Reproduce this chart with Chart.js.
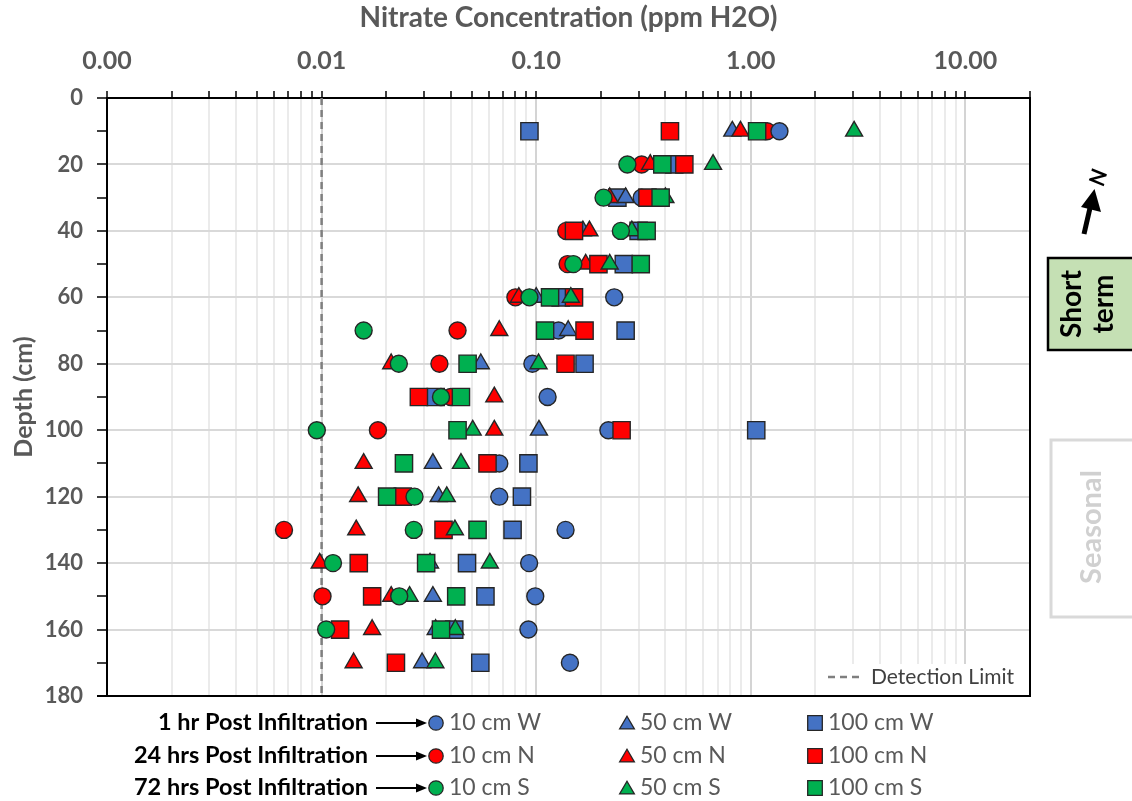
<!DOCTYPE html>
<html><head><meta charset="utf-8">
<script src="https://cdn.jsdelivr.net/npm/chart.js@4.4.0/dist/chart.umd.min.js"></script>
<style>html,body{margin:0;padding:0;background:#fff}canvas{display:block}</style>
</head><body>
<canvas id="c" width="1132" height="801"></canvas>
<script>
// ---------- DATA ----------
const depths = [10,20,30,40,50,60,70,80,90,100,110,120,130,140,150,160,170];
// 1 hr post infiltration (W)
const w10  = [1.36, null, 0.31, null, null, 0.231, 0.127, 0.096, 0.113, 0.217, 0.0673, 0.0673, 0.137, 0.0927, 0.099, 0.092, 0.1436];
const w50  = [0.82, null, 0.261, 0.165, null, 0.10, 0.141, 0.0552, null, 0.103, 0.033, 0.0351, null, 0.032, 0.033, 0.034, 0.0294];
const w100 = [0.093, 0.44, 0.239, 0.30, 0.256, 0.13, 0.261, 0.168, 0.034, 1.06, 0.092, 0.0858, 0.0776, 0.0476, 0.058, 0.0415, 0.0549];
// 24 hrs post infiltration (N)
const n10  = [1.19, 0.31, null, 0.138, 0.14, 0.080, 0.043, 0.0354, 0.040, 0.0183, null, null, 0.00668, null, 0.0101, null, null];
const n50  = [0.895, 0.34, 0.22, 0.177, 0.170, 0.083, 0.0673, 0.0211, 0.0638, 0.0638, 0.0157, 0.0148, 0.0145, 0.0098, 0.0211, 0.0172, 0.0141];
const n100 = [0.42, 0.49, 0.33, 0.150, 0.195, 0.150, 0.168, 0.137, 0.0284, 0.25, 0.0593, 0.0239, 0.037, 0.0149, 0.0172, 0.0122, 0.0222];
// 72 hrs post infiltration (S)
const s10  = [null, 0.266, 0.206, 0.248, 0.149, 0.093, 0.0157, 0.0229, 0.036, 0.0095, null, 0.0271, 0.0269, 0.0113, 0.023, 0.0105, null];
const s50  = [3.03, 0.667, 0.40, 0.279, 0.220, 0.145, null, 0.1026, null, 0.0506, 0.0446, 0.0383, 0.0418, 0.0608, 0.0257, 0.042, 0.0339];
const s100 = [1.07, 0.387, 0.38, 0.327, 0.307, 0.116, 0.110, 0.0479, 0.0446, 0.043, 0.0242, 0.0202, 0.0533, 0.0307, 0.0424, 0.0360, null];

const detectionLimit = 0.01;
const xTickValues = [0.001, 0.01, 0.1, 1, 10];
const xTickLabels = ['0.00', '0.01', '0.10', '1.00', '10.00'];
const yTickLabels = [0, 20, 40, 60, 80, 100, 120, 140, 160, 180];
const rowLabels = ['1 hr Post Infiltration', '24 hrs Post Infiltration', '72 hrs Post Infiltration'];
const seriesLabels = [['10 cm W','50 cm W','100 cm W'],['10 cm N','50 cm N','100 cm N'],['10 cm S','50 cm S','100 cm S']];

// ---------- STYLE ----------
const BLUE = '#4472c4', RED = '#ff0000', GREEN = '#00b050';
const FONT = 'Lato';
const GRAY = '#595959';
const rowColors = [BLUE, RED, GREEN];
const shapes = [{style:'circle', r:8.5}, {style:'triangle', r:9.8}, {style:'rect', r:12.2}];

function pts(vals){ return depths.map((d,i)=> vals[i]==null ? null : {x: vals[i], y: d}).filter(Boolean); }
function ds(label, vals, color, shapeIdx){
  return {label, data: pts(vals), backgroundColor: color, borderColor: '#262626', borderWidth: 1.4,
          pointStyle: shapes[shapeIdx].style, pointRadius: shapes[shapeIdx].r, pointHoverRadius: shapes[shapeIdx].r, showLine:false};
}
const datasets = [
  ds('10 cm S', s10, GREEN, 0),
  ds('100 cm S', s100, GREEN, 2),
  ds('50 cm S', s50, GREEN, 1),
  ds('100 cm N', n100, RED, 2),
  ds('50 cm N', n50, RED, 1),
  ds('50 cm W', w50, BLUE, 1),
  ds('10 cm W', w10, BLUE, 0),
  ds('10 cm N', n10, RED, 0),
  ds('100 cm W', w100, BLUE, 2),
  {label:'Detection Limit', data:[{x:detectionLimit,y:0},{x:detectionLimit,y:180}], showLine:true,
   borderColor:'#7f7f7f', borderWidth:2.5, borderDash:[7,5], pointRadius:0, fill:false}
];

function isMajor(v){ return xTickValues.findIndex(t => Math.abs(t - v) / t < 1e-6); }

function marker(ctx, style, x, y, r, color){
  ctx.save();
  ctx.fillStyle = color; ctx.strokeStyle = '#262626'; ctx.lineWidth = 1.3;
  ctx.beginPath();
  if (style === 'circle') { ctx.arc(x, y, r, 0, Math.PI*2); }
  else if (style === 'triangle') {
    for (let k=0;k<3;k++){ const a = -Math.PI/2 + k*2*Math.PI/3; const px = x + r*Math.cos(a), py = y + r*Math.sin(a) + r*0.2; k? ctx.lineTo(px,py):ctx.moveTo(px,py);} ctx.closePath();
  } else { ctx.rect(x - r, y - r, 2*r, 2*r); }
  ctx.fill(); ctx.stroke(); ctx.restore();
}

const deco = {
  id: 'deco',
  beforeDraw(chart){
    const c = chart.ctx; c.save(); c.fillStyle = '#fff'; c.fillRect(0,0,chart.width,chart.height); c.restore();
  },
  afterDatasetsDraw(chart){
    const c = chart.ctx, a = chart.chartArea;
    c.save();
    // detection limit legend box
    c.fillStyle = '#fff'; c.fillRect(818, 664, a.right - 820, a.bottom - 665);
    c.strokeStyle = '#7f7f7f'; c.lineWidth = 2.5; c.setLineDash([7,5]);
    c.beginPath(); c.moveTo(828, 677); c.lineTo(864, 677); c.stroke(); c.setLineDash([]);
    c.fillStyle = '#404040'; c.font = '21px ' + FONT; c.textBaseline = 'middle'; c.textAlign = 'left';
    c.fillText('Detection Limit', 871, 677);
    // right and bottom border
    c.strokeStyle = '#000'; c.lineWidth = 2;
    c.beginPath(); c.moveTo(a.right, a.top); c.lineTo(a.right, a.bottom); c.lineTo(a.left - 10, a.bottom); c.stroke();
    c.restore();
  },
  afterDraw(chart){
    const c = chart.ctx;
    c.save();
    // ----- bottom legend -----
    const rowsY = [722, 755, 787];
    const colX = [436, 627, 815];
    for (let r=0;r<3;r++){
      const y = rowsY[r];
      c.fillStyle = '#000'; c.font = 'bold 23.5px ' + FONT; c.textAlign = 'right'; c.textBaseline = 'middle';
      c.fillText(rowLabels[r], 368, y);
      // arrow
      c.strokeStyle = '#000'; c.lineWidth = 2;
      c.beginPath(); c.moveTo(376, y + 1); c.lineTo(418, y + 1); c.stroke();
      c.fillStyle = '#000'; c.beginPath(); c.moveTo(427, y + 1); c.lineTo(416, y - 3.5); c.lineTo(416, y + 5.5); c.closePath(); c.fill();
      for (let k=0;k<3;k++){
        const st = shapes[k].style;
        const rr = st === 'circle' ? 7.2 : (st === 'triangle' ? 8.5 : 7.3);
        marker(c, st, colX[k], y + 1, rr, rowColors[r]);
        c.fillStyle = GRAY; c.font = '23px ' + FONT; c.textAlign = 'left'; c.textBaseline = 'middle';
        c.fillText(seriesLabels[r][k], colX[k] + 13, y + 1);
      }
    }
    // ----- north arrow -----
    c.fillStyle = '#000'; c.strokeStyle = '#000';
    c.lineWidth = 5; c.lineCap = 'butt';
    c.beginPath(); c.moveTo(1084, 234); c.lineTo(1090, 208); c.stroke();
    c.beginPath(); c.moveTo(1094.5, 189); c.lineTo(1101, 212); c.lineTo(1081, 207); c.closePath(); c.fill();
    c.save(); c.translate(1097, 177); c.rotate(Math.PI/2 + 0.26);
    c.font = 'bold italic 22px ' + FONT; c.textAlign = 'center'; c.textBaseline = 'middle';
    c.fillText('N', 0, 0); c.restore();
    // ----- Short term box -----
    c.fillStyle = '#c5e0b4'; c.fillRect(1048, 258, 100, 92);
    c.strokeStyle = '#000'; c.lineWidth = 2.5; c.strokeRect(1048, 258, 100, 92);
    c.save(); c.translate(1088, 304); c.rotate(-Math.PI/2);
    c.fillStyle = '#000'; c.font = 'bold 28px ' + FONT; c.textAlign = 'center'; c.textBaseline = 'middle';
    c.fillText('Short', 0, -16); c.fillText('term', 0, 16); c.restore();
    // ----- Seasonal box -----
    c.strokeStyle = '#d9d9d9'; c.lineWidth = 3; c.strokeRect(1051, 440, 100, 177);
    c.save(); c.translate(1092, 527); c.rotate(-Math.PI/2);
    c.fillStyle = '#d0d0d0'; c.font = 'bold 29px ' + FONT; c.textAlign = 'center'; c.textBaseline = 'middle';
    c.fillText('Seasonal', 0, 0); c.restore();
    c.restore();
  }
};

new Chart(document.getElementById('c'), {
  type: 'scatter',
  data: { datasets },
  options: {
    responsive: false, animation: false, devicePixelRatio: 1,
    layout: { padding: { left: 0, top: 0, right: 102, bottom: 105 } },
    plugins: { legend: { display: false }, tooltip: { enabled: false } },
    scales: {
      x: {
        type: 'logarithmic', position: 'top', min: 0.001, max: 20,
        afterBuildTicks(scale){
          const t = [];
          for (let e = -3; e <= 1; e++) for (let m = 1; m <= 9; m++) {
            const v = +(m * Math.pow(10, e)).toPrecision(3);
            if (v <= 20.0001) t.push({ value: v, major: m === 1 });
          }
          scale.ticks = t;
        },
        afterFit(scale){ scale.height = 98; },
        ticks: {
          autoSkip: false, maxRotation: 0, padding: 15,
          color: GRAY, font: { family: FONT, size: 25, weight: 'bold' },
          callback: (v) => { const i = isMajor(v); return i >= 0 ? xTickLabels[i] : ''; }
        },
        grid: {
          color: (ctx) => (ctx.tick && isMajor(ctx.tick.value) >= 0) ? '#d4d4d4' : '#ebebeb',
          lineWidth: 2, tickColor: '#000', tickLength: 7, tickWidth: 1.5, drawTicks: true
        },
        border: { display: true, color: '#000', width: 2 },
        title: { display: true, text: 'Nitrate Concentration (ppm H2O)', color: GRAY,
                 font: { family: FONT, size: 28, weight: 'bold' }, padding: { top: 1, bottom: 0 } }
      },
      y: {
        type: 'linear', reverse: true, min: 0, max: 180,
        afterFit(scale){ scale.width = 107; },
        ticks: {
          stepSize: 10, autoSkip: false, padding: 14,
          color: GRAY, font: { family: FONT, size: 22, weight: 'bold' },
          callback: (v) => yTickLabels.includes(v) ? String(v) : ''
        },
        grid: {
          color: (ctx) => (ctx.tick && yTickLabels.includes(ctx.tick.value)) ? '#d9d9d9' : 'rgba(0,0,0,0)',
          lineWidth: 2, tickColor: '#000', tickLength: 10, tickWidth: 1.5
        },
        border: { display: true, color: '#000', width: 2 },
        title: { display: true, text: 'Depth (cm)', color: GRAY,
                 font: { family: FONT, size: 25, weight: 'bold' }, padding: { top: 9, bottom: 0 } }
      }
    }
  },
  plugins: [deco]
});
</script>
</body></html>
